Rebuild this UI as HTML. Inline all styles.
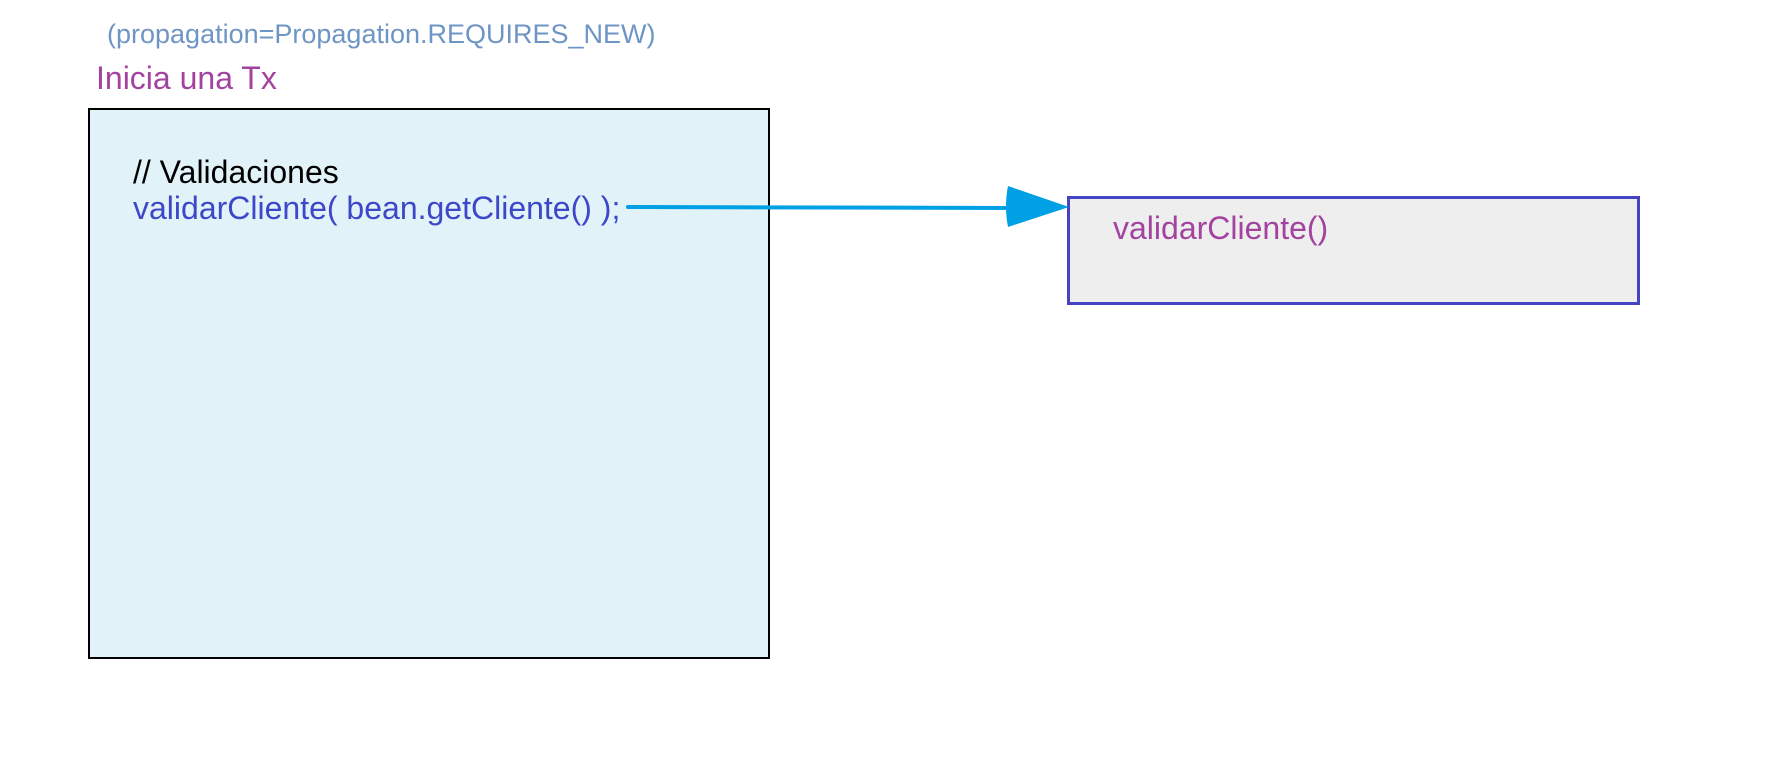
<!DOCTYPE html>
<html><head><meta charset="utf-8"><style>
body{margin:0;width:1766px;height:766px;background:#fff;position:relative;overflow:hidden;font-family:"Liberation Sans",Arial,sans-serif}
.t{position:absolute;white-space:nowrap;line-height:1}
</style></head><body>
<div class="t" style="left:107px;top:21px;font-size:27px;color:#6e95c4">(propagation=Propagation.REQUIRES_NEW)</div>
<div class="t" style="left:96px;top:62px;font-size:32px;color:#a243a0">Inicia una Tx</div>
<div style="position:absolute;left:88px;top:108px;width:678px;height:547px;border:2px solid #000;background:#e1f3f8"></div>
<div class="t" style="left:133px;top:156px;font-size:32px;color:#000">// Validaciones</div>
<div class="t" style="left:133px;top:192px;font-size:32px;color:#3d47c9">validarCliente( bean.getCliente() );</div>
<div style="position:absolute;left:1067px;top:196px;width:567px;height:103px;border:3px solid #4343c4;background:#eeeeee"></div>
<div class="t" style="left:1113px;top:212px;font-size:32px;color:#a243a0">validarCliente()</div>
<svg width="1766" height="766" style="position:absolute;left:0;top:0">
<line x1="628" y1="207" x2="1010" y2="208" stroke="#00a0e4" stroke-width="4" stroke-linecap="round"/>
<path d="M1008 186 Q1004 206 1008 227 L1069 207 Z" fill="#00a0e4"/>
</svg>
</body></html>
